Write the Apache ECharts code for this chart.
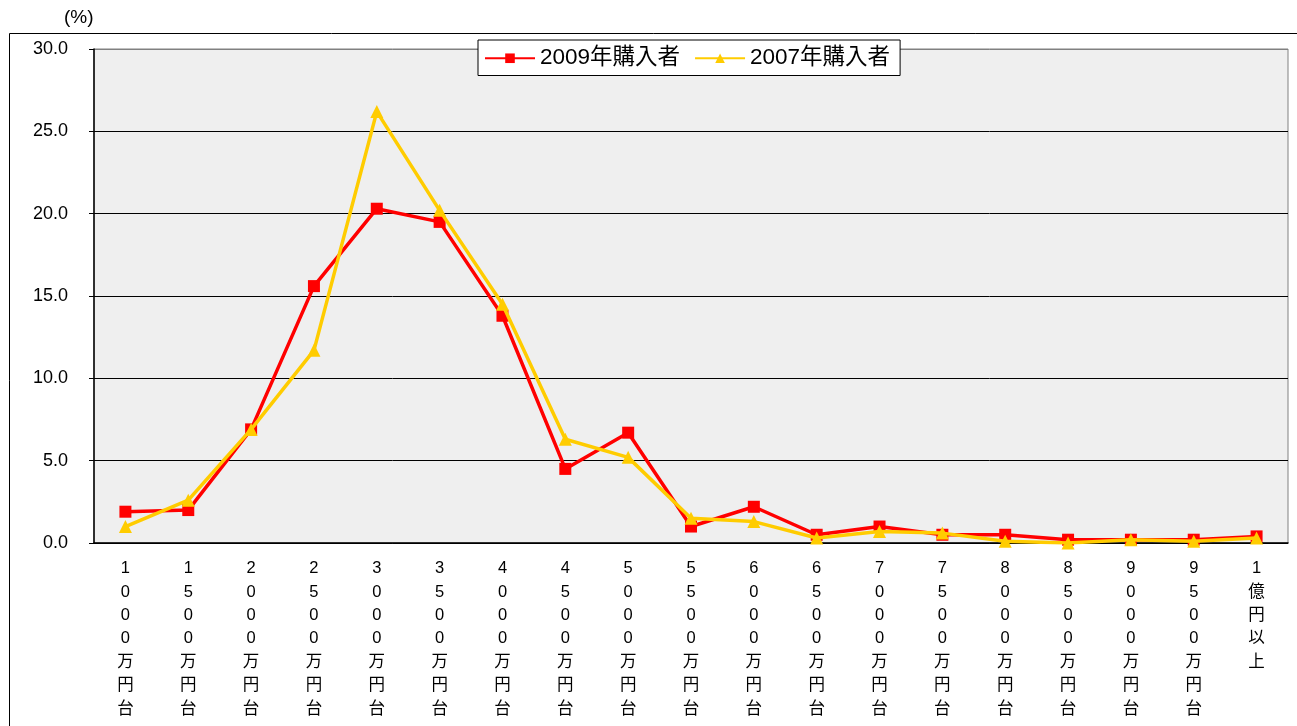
<!DOCTYPE html>
<html><head><meta charset="utf-8">
<script src="https://cdn.jsdelivr.net/npm/echarts@6/dist/echarts.min.js"></script>
<style>html,body{margin:0;padding:0;background:#fff}#c{width:1297px;height:726px}</style>
</head><body><div id="c"></div>
<script>
const categories = ['1000万円台','1500万円台','2000万円台','2500万円台','3000万円台','3500万円台','4000万円台','4500万円台','5000万円台','5500万円台','6000万円台','6500万円台','7000万円台','7500万円台','8000万円台','8500万円台','9000万円台','9500万円台','1億円以上'];
const buyers2009 = [1.9, 2.0, 6.9, 15.6, 20.3, 19.5, 13.8, 4.5, 6.7, 1.0, 2.2, 0.5, 1.0, 0.5, 0.5, 0.2, 0.2, 0.2, 0.4];
const buyers2007 = [1.0, 2.6, 6.9, 11.7, 26.2, 20.2, 14.5, 6.3, 5.2, 1.5, 1.3, 0.3, 0.7, 0.6, 0.1, 0.0, 0.2, 0.1, 0.3];
const yTicks = [0, 5, 10, 15, 20, 25, 30];

const FONT = 'Liberation Sans, Arial, Noto Sans CJK JP, sans-serif';
const chart = echarts.init(document.getElementById('c'));
chart.setOption({
  backgroundColor: '#fff',
  animation: false,
  graphic: [
    {type: 'rect', shape: {x: 9.5, y: 33.5, width: 1400, height: 800}, style: {fill: 'none', stroke: '#000', lineWidth: 1}, z: -10},
    {type: 'text', left: 64, top: 8, style: {text: '(%)', font: '19px ' + FONT, fill: '#000'}}
  ],
  grid: {left: 94, right: 9, top: 49, bottom: 183, show: true, backgroundColor: '#efefef', borderColor: '#808080', borderWidth: 1},
  legend: {
    left: 478, top: 40, width: 440,
    backgroundColor: '#fff', borderColor: '#000', borderWidth: 1,
    padding: [7, 10, 6, 6], itemGap: 14, itemWidth: 50, itemHeight: 12,
    textStyle: {fontSize: 22.5, color: '#000', fontFamily: FONT},
    data: ['2009年購入者', '2007年購入者']
  },
  xAxis: {
    type: 'category', data: categories, boundaryGap: true,
    axisLine: {lineStyle: {color: '#000', width: 1.5}},
    axisTick: {inside: true, length: 5, lineStyle: {color: '#333'}},
    axisLabel: {
      interval: 0, margin: 14, fontSize: 16.5, lineHeight: 23.4, color: '#000', fontFamily: FONT,
      formatter: v => v.split('').join('\n'),
      verticalAlign: 'top'
    }
  },
  yAxis: {
    type: 'value', min: 0, max: 30, interval: 5,
    axisLine: {show: true, lineStyle: {color: '#000', width: 1.5}},
    axisTick: {show: true, length: 5, lineStyle: {color: '#000'}},
    axisLabel: {fontSize: 18, color: '#000', margin: 26, padding: [5, 0, 0, 0], fontFamily: FONT, formatter: v => yTicks.includes(v) ? v.toFixed(1) : ''},
    splitLine: {lineStyle: {color: ['#000','#000','#000','#000','#000','#000','#808080'], width: 1}}
  },
  series: [
    {name: '2009年購入者', type: 'line', data: buyers2009, symbol: 'rect', symbolSize: 12,
     itemStyle: {color: '#ff0000'}, lineStyle: {color: '#ff0000', width: 3.5}, z: 3},
    {name: '2007年購入者', type: 'line', data: buyers2007, symbol: 'triangle', symbolSize: 13,
     itemStyle: {color: '#ffcc00'}, lineStyle: {color: '#ffcc00', width: 3.5}, z: 4}
  ]
});
</script></body></html>
